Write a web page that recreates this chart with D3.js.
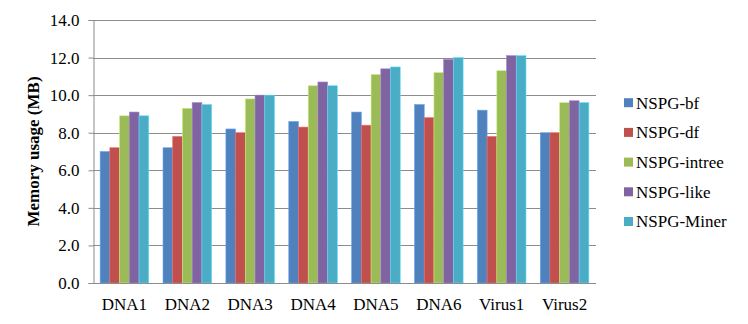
<!DOCTYPE html>
<html><head><meta charset="utf-8">
<script src="https://cdn.jsdelivr.net/npm/d3@7"></script>
<style>body{margin:0;background:#fff}svg{display:block}</style>
</head><body>
<svg id="c" width="748" height="324"></svg>
<script>
const categories = ["DNA1","DNA2","DNA3","DNA4","DNA5","DNA6","Virus1","Virus2"];
const seriesNames = ["NSPG-bf","NSPG-df","NSPG-intree","NSPG-like","NSPG-Miner"];
const bf     = [7.0, 7.2, 8.2, 8.6, 9.1, 9.5, 9.2, 8.0];
const df     = [7.2, 7.8, 8.0, 8.3, 8.4, 8.8, 7.8, 8.0];
const intree = [8.9, 9.3, 9.8, 10.5, 11.1, 11.2, 11.3, 9.6];
const like   = [9.1, 9.6, 10.0, 10.7, 11.4, 11.9, 12.1, 9.7];
const miner  = [8.9, 9.5, 10.0, 10.5, 11.5, 12.0, 12.1, 9.6];
const colors = ["#4F81BD","#C0504D","#9BBB59","#8064A2","#4BACC6"];
const yTicks = [0,2,4,6,8,10,12,14];
const yTitle = "Memory usage (MB)";

const series = [bf, df, intree, like, miner];
const svg = d3.select("#c");
const L = 93, R = 596, T = 20, B = 283;
const font = "'Liberation Serif','Times New Roman',serif";

const x0 = d3.scaleBand().domain(categories).range([L, R]).paddingInner(0.227).paddingOuter(0.1135);
const x1 = d3.scaleBand().domain(seriesNames).range([0, x0.bandwidth()]);
const y = d3.scaleLinear().domain([0, 14]).range([B, T]);

// gridlines
svg.append("g").selectAll("line").data(yTicks.filter(d => d > 0)).join("line")
  .attr("x1", L).attr("x2", R)
  .attr("y1", d => Math.round(y(d)) + 0.5).attr("y2", d => Math.round(y(d)) + 0.5)
  .attr("stroke", "#8c8c8c").attr("stroke-width", 1);

// bars
const g = svg.append("g");
seriesNames.forEach((s, si) => {
  g.append("g").selectAll("rect").data(categories).join("rect")
    .attr("x", c => x0(c) + x1(s))
    .attr("width", x1.bandwidth())
    .attr("y", (c, i) => y(series[si][i]))
    .attr("height", (c, i) => B - y(series[si][i]))
    .attr("fill", colors[si])
    .attr("stroke", d3.color(colors[si]).brighter(0.7))
    .attr("stroke-width", 0.6);
});

// y axis
const yAxis = d3.axisLeft(y).tickValues(yTicks).tickFormat(d3.format(".1f")).tickSize(5).tickPadding(9);
const ya = svg.append("g").attr("transform", `translate(${L + 0.5},0)`).call(yAxis);
ya.select(".domain").attr("stroke", "#8c8c8c");
ya.selectAll(".tick line").attr("stroke", "#8c8c8c");
ya.selectAll(".tick text").attr("font-family", font).attr("font-size", 17).attr("fill", "#000");

// x axis
const xAxis = d3.axisBottom(x0).tickSize(0).tickPadding(14);
const xa = svg.append("g").attr("transform", `translate(0,${B + 0.5})`).call(xAxis);
xa.select(".domain").attr("stroke", "#8c8c8c").attr("d", `M${L},0H${R}`);
xa.selectAll(".tick text").attr("font-family", font).attr("font-size", 17).attr("fill", "#000");

// y title
svg.append("text").attr("transform", `translate(39,${(T + B) / 2}) rotate(-90)`)
  .attr("text-anchor", "middle").attr("font-family", font).attr("font-size", 17)
  .attr("font-weight", "bold").text(yTitle);

// legend
const lg = svg.append("g");
seriesNames.forEach((s, i) => {
  const cy = 102.7 + i * 29.7;
  lg.append("rect").attr("x", 624).attr("y", cy - 4.5).attr("width", 9).attr("height", 9).attr("fill", colors[i]);
  lg.append("text").attr("x", 636).attr("y", cy).attr("dy", "0.35em")
    .attr("font-family", font).attr("font-size", 17).text(s);
});
</script>
</body></html>
